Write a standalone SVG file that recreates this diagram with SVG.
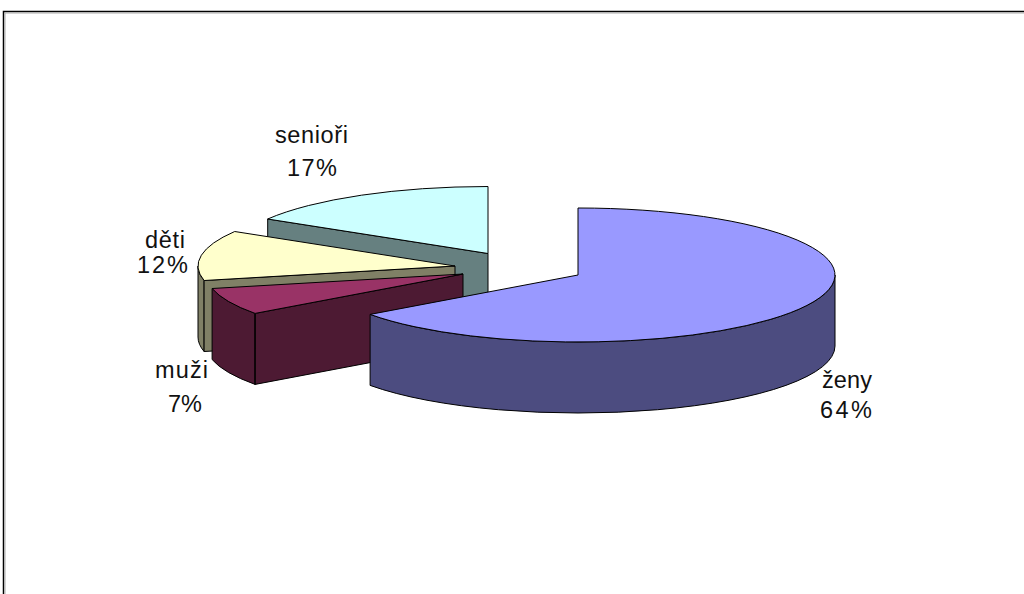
<svg xmlns="http://www.w3.org/2000/svg" width="1024" height="594" viewBox="0 0 1024 594">
<style>
  .edge { stroke: #000; stroke-width: 1; stroke-linejoin: round; }
  .lbl { font-family: "Liberation Sans", Arial, sans-serif; font-size: 23.5px; fill: #111; text-anchor: middle; }
  .zeny-top { fill: #9999FF; } .zeny-side { fill: #4C4C80; }
  .muzi-top { fill: #993366; } .muzi-side { fill: #4D1A33; }
  .deti-top { fill: #FFFFCC; } .deti-side { fill: #808066; }
  .sen-top { fill: #CCFFFF; } .sen-side { fill: #668080; }
</style>
<rect x="0" y="0" width="1024" height="594" fill="#fff"/>
<g id="frame" fill="none">
  <path d="M3.5,594 V11.5 H1024" stroke="#000" stroke-width="1.5"/>
  <path d="M5,594 V13 H1024" stroke="#aaa" stroke-width="1"/>
</g>
<g id="slice-seniori">
  <path class="sen-side edge" d="M267.7,219 L488,253.5 L488,324.5 L267.7,290 Z"/>
  <path class="sen-top edge" d="M488,253.5 L488,186.5 A257,67 0 0 0 267.7,219 Z"/>
</g>
<g id="slice-deti">
  <path class="deti-side edge" d="M198,266 A257,67 0 0 0 204.1,280.5 L204.1,351.5 A257,67 0 0 1 198,337 Z"/>
  <path class="deti-side edge" d="M204.1,280.5 L455,266 L455,337 L204.1,351.5 Z"/>
  <path class="deti-top edge" d="M455,266 L234.7,231.5 A257,67 0 0 0 204.1,280.5 Z"/>
</g>
<g id="slice-muzi">
  <path class="muzi-side edge" d="M212.1,288.5 A257,67 0 0 0 255.1,313.4 L255.1,384.4 A257,67 0 0 1 212.1,359.5 Z"/>
  <path class="muzi-side edge" d="M255.1,313.4 L463,274 L463,345 L255.1,384.4 Z"/>
  <line class="edge" x1="255.1" y1="313.4" x2="255.1" y2="384.4" stroke-width="2"/>
  <path class="muzi-top edge" d="M463,274 L212.1,288.5 A257,67 0 0 0 255.1,313.4 Z"/>
</g>
<g id="slice-zeny">
  <path class="zeny-side edge" d="M370.1,314.4 A257,67 0 0 0 835,275 L835,346 A257,67 0 0 1 370.1,385.4 Z"/>
  <path class="zeny-top edge" d="M578,275 L578,208 A257,67 0 1 1 370.1,314.4 Z"/>
</g>
<g id="labels">
  <text class="lbl" x="311.5" y="143" textLength="73" lengthAdjust="spacing">senioři</text>
  <text class="lbl" x="312" y="175.5" textLength="50" lengthAdjust="spacing">17%</text>
  <text class="lbl" x="165" y="248" textLength="40" lengthAdjust="spacing">děti</text>
  <text class="lbl" x="162.5" y="273" textLength="51" lengthAdjust="spacing">12%</text>
  <text class="lbl" x="181.5" y="378" textLength="53" lengthAdjust="spacing">muži</text>
  <text class="lbl" x="185" y="411.5" textLength="34" lengthAdjust="spacing">7%</text>
  <text class="lbl" x="847" y="388" textLength="50" lengthAdjust="spacing">ženy</text>
  <text class="lbl" x="846" y="418" textLength="52" lengthAdjust="spacing">64%</text>
</g>
</svg>
